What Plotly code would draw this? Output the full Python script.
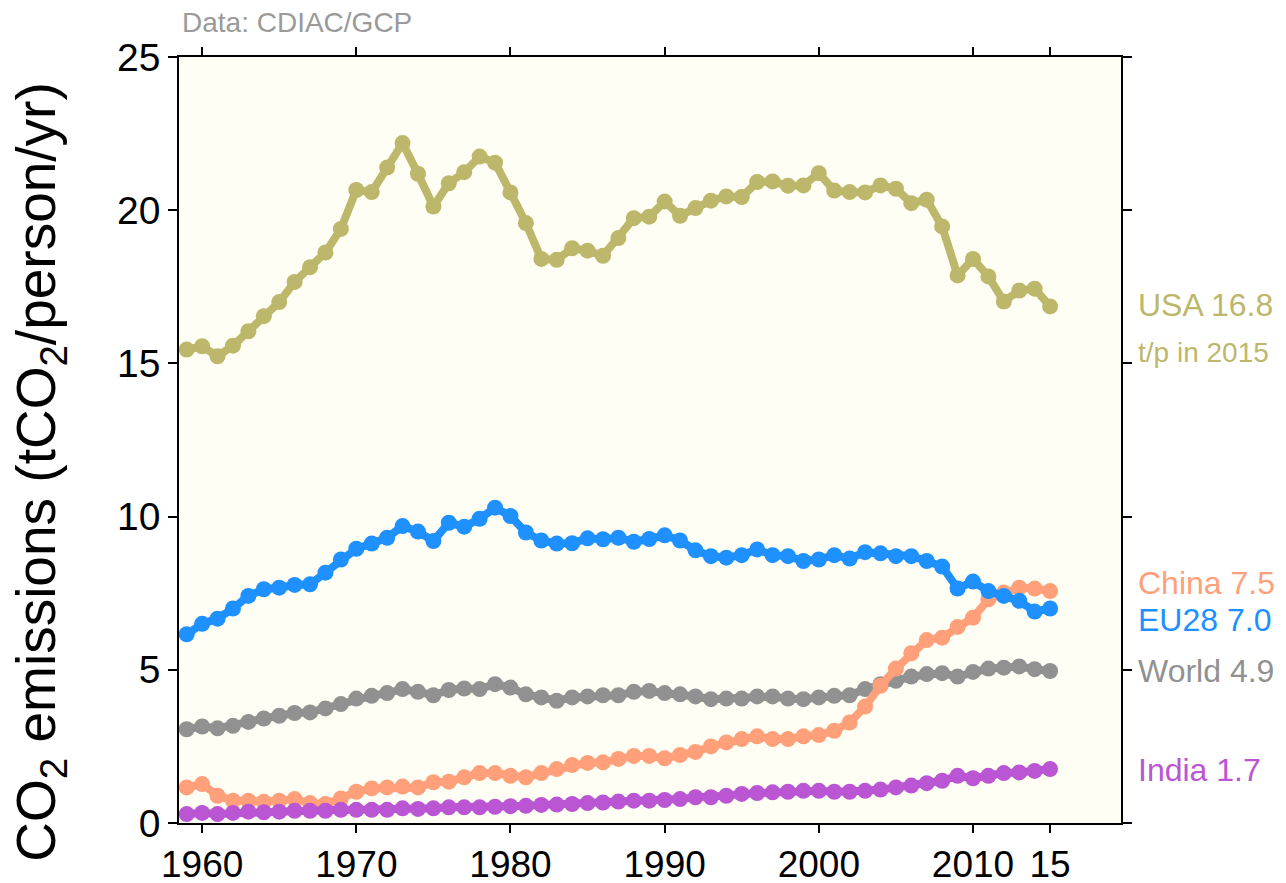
import plotly.graph_objects as go

years = list(range(1959, 2016))

usa = [15.45, 15.56, 15.23, 15.58, 16.05, 16.54, 17.0, 17.66, 18.14, 18.62,
       19.39, 20.66, 20.59, 21.39, 22.19, 21.19, 20.12, 20.88, 21.24, 21.75,
       21.55, 20.58, 19.58, 18.41, 18.38, 18.76, 18.68, 18.51, 19.09, 19.74,
       19.79, 20.28, 19.82, 20.07, 20.31, 20.45, 20.43, 20.92, 20.94, 20.8,
       20.81, 21.21, 20.64, 20.59, 20.58, 20.81, 20.7, 20.23, 20.34, 19.47,
       17.87, 18.41, 17.84, 17.02, 17.38, 17.44, 16.86]

eu28 = [6.16, 6.5, 6.67, 7.0, 7.41, 7.63, 7.68, 7.77, 7.79, 8.17,
        8.6, 8.95, 9.12, 9.31, 9.69, 9.51, 9.2, 9.8, 9.67, 9.93,
        10.29, 10.02, 9.48, 9.22, 9.12, 9.13, 9.29, 9.26, 9.31, 9.18,
        9.27, 9.39, 9.22, 8.9, 8.71, 8.66, 8.74, 8.93, 8.74, 8.71,
        8.55, 8.6, 8.74, 8.63, 8.84, 8.8, 8.71, 8.71, 8.55, 8.37,
        7.65, 7.88, 7.57, 7.41, 7.25, 6.9, 7.0]

world = [3.06, 3.15, 3.09, 3.17, 3.3, 3.41, 3.5, 3.59, 3.61, 3.74,
         3.88, 4.06, 4.15, 4.24, 4.37, 4.28, 4.17, 4.34, 4.39, 4.37,
         4.53, 4.42, 4.2, 4.1, 3.99, 4.1, 4.13, 4.17, 4.17, 4.28,
         4.31, 4.24, 4.2, 4.13, 4.04, 4.06, 4.06, 4.13, 4.13, 4.06,
         4.04, 4.1, 4.15, 4.17, 4.37, 4.53, 4.64, 4.78, 4.86, 4.89,
         4.78, 4.93, 5.04, 5.07, 5.11, 5.02, 4.96]

china = [1.16, 1.27, 0.89, 0.73, 0.73, 0.69, 0.73, 0.78, 0.65, 0.62,
         0.8, 1.02, 1.13, 1.16, 1.19, 1.16, 1.33, 1.35, 1.49, 1.63,
         1.63, 1.54, 1.49, 1.63, 1.76, 1.89, 1.96, 1.98, 2.09, 2.19,
         2.19, 2.11, 2.22, 2.32, 2.5, 2.63, 2.74, 2.83, 2.74, 2.74,
         2.83, 2.87, 3.01, 3.28, 3.8, 4.48, 5.04, 5.54, 5.97, 6.05,
         6.4, 6.7, 7.3, 7.52, 7.68, 7.65, 7.57]

india = [0.29, 0.33, 0.29, 0.33, 0.37, 0.35, 0.37, 0.4, 0.4, 0.4,
         0.43, 0.43, 0.43, 0.43, 0.48, 0.46, 0.48, 0.51, 0.51, 0.51,
         0.53, 0.55, 0.56, 0.59, 0.6, 0.62, 0.65, 0.67, 0.7, 0.73,
         0.73, 0.75, 0.78, 0.84, 0.84, 0.89, 0.95, 0.98, 1.0, 1.02,
         1.05, 1.05, 1.02, 1.02, 1.05, 1.09, 1.16, 1.22, 1.3, 1.38,
         1.54, 1.46, 1.54, 1.63, 1.65, 1.7, 1.76]

x_tickvals = [1960, 1970, 1980, 1990, 2000, 2010, 2015]
x_ticktext = ["1960", "1970", "1980", "1990", "2000", "2010", "15"]
y_tickvals = [0, 5, 10, 15, 20, 25]

series = [
    ("USA", usa, "#BDB76B"),
    ("World", world, "#919191"),
    ("China", china, "#FFA07A"),
    ("EU28", eu28, "#1E90FF"),
    ("India", india, "#BA55D3"),
]

labels = [
    ("USA 16.8", 16.9, "#BDB76B", 32),
    ("t/p in 2015", 15.37, "#BDB76B", 28),
    ("China 7.5", 7.84, "#FFA07A", 32),
    ("EU28 7.0", 6.63, "#1E90FF", 32),
    ("World 4.9", 4.97, "#919191", 32),
    ("India 1.7", 1.74, "#BA55D3", 32),
]

FONT = "Liberation Sans, Arial, Helvetica, sans-serif"

fig = go.Figure()
for name, vals, col in series:
    fig.add_trace(go.Scatter(
        x=years, y=vals, mode="lines+markers", name=name,
        line=dict(color=col, width=8),
        marker=dict(color=col, size=16),
        showlegend=False,
    ))

for txt, yv, col, sz in labels:
    fig.add_annotation(
        x=1.016, xref="paper", y=yv, yref="y", text=txt, showarrow=False,
        xanchor="left", yanchor="middle", font=dict(family=FONT, size=sz, color=col),
    )

fig.add_annotation(
    x=0.0011, xref="paper", y=1.0, yref="paper", yshift=35,
    text="Data: CDIAC/GCP", showarrow=False, xanchor="left", yanchor="middle",
    font=dict(family=FONT, size=28, color="#9A9A9A"),
)

fig.add_annotation(
    x=-0.1476, xref="paper", y=0.4586, yref="paper",
    text="CO<sub>2</sub> emissions (tCO<sub>2</sub>/person/yr)", showarrow=False,
    textangle=-90, xanchor="center", yanchor="middle",
    font=dict(family=FONT, size=55, color="black"),
)

fig.update_layout(
    width=1278, height=875,
    margin=dict(l=171, r=165, t=49, b=59.5, autoexpand=False),
    paper_bgcolor="white", plot_bgcolor="#FFFEF4",
    font=dict(family=FONT, color="black"),
    xaxis=dict(
        range=[1958.5, 2019.6], tickvals=x_tickvals, ticktext=x_ticktext,
        ticks="outside", ticklen=8, tickwidth=1.5, tickcolor="black",
        showline=True, linecolor="black", linewidth=1.5, mirror="ticks",
        showgrid=False, zeroline=False, tickfont=dict(size=37, family=FONT),
        automargin=False,
    ),
    yaxis=dict(
        range=[0, 25], tickvals=y_tickvals,
        ticks="outside", ticklen=9, tickwidth=1.5, tickcolor="black",
        showline=True, linecolor="black", linewidth=1.5, mirror="ticks",
        showgrid=False, zeroline=False, tickfont=dict(size=39, family=FONT),
        automargin=False,
    ),
)

fig.write_html("out.html")
